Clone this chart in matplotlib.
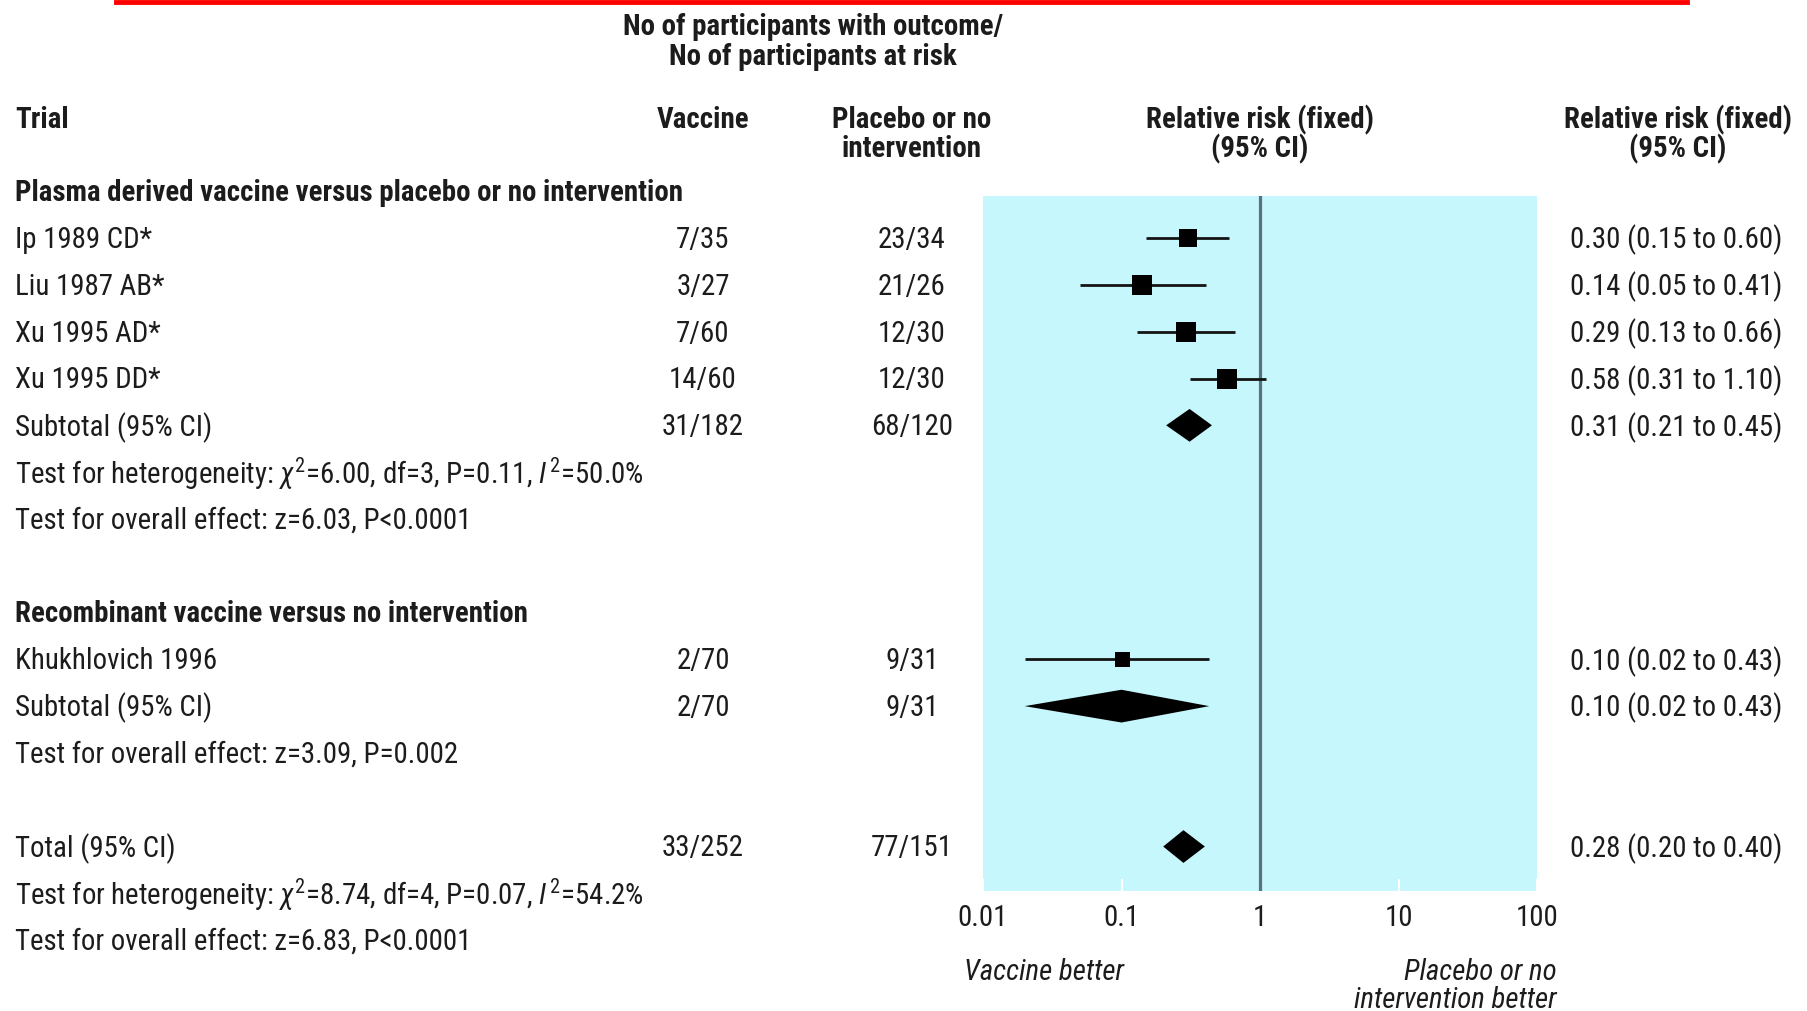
import numpy as np
import matplotlib
import matplotlib.pyplot as plt
from matplotlib import font_manager
from matplotlib.lines import Line2D
from matplotlib.transforms import blended_transform_factory

matplotlib.use("Agg")

# --- data -------------------------------------------------------------
group1_title = "Plasma derived vaccine versus placebo or no intervention"
group1_trials = ["Ip 1989 CD*", "Liu 1987 AB*", "Xu 1995 AD*", "Xu 1995 DD*"]
group1_vaccine = ["7/35", "3/27", "7/60", "14/60"]
group1_placebo = ["23/34", "21/26", "12/30", "12/30"]
group1_rr = [0.30, 0.14, 0.29, 0.58]
group1_lo = [0.15, 0.05, 0.13, 0.31]
group1_hi = [0.60, 0.41, 0.66, 1.10]
group1_sub = {"vaccine": "31/182", "placebo": "68/120", "rr": 0.31, "lo": 0.21, "hi": 0.45}
group1_tests = [
    r"Test for heterogeneity: $\chi^{2}$=6.00, df=3, P=0.11, $\mathit{I}^{\,2}$=50.0%",
    "Test for overall effect: z=6.03, P<0.0001",
]

group2_title = "Recombinant vaccine versus no intervention"
group2_trials = ["Khukhlovich 1996"]
group2_vaccine = ["2/70"]
group2_placebo = ["9/31"]
group2_rr = [0.10]
group2_lo = [0.02]
group2_hi = [0.43]
group2_sub = {"vaccine": "2/70", "placebo": "9/31", "rr": 0.10, "lo": 0.02, "hi": 0.43}
group2_tests = ["Test for overall effect: z=3.09, P=0.002"]

total = {"vaccine": "33/252", "placebo": "77/151", "rr": 0.28, "lo": 0.20, "hi": 0.40}
total_tests = [
    r"Test for heterogeneity: $\chi^{2}$=8.74, df=4, P=0.07, $\mathit{I}^{\,2}$=54.2%",
    "Test for overall effect: z=6.83, P<0.0001",
]

tick_values = [0.01, 0.1, 1, 10, 100]
tick_labels = ["0.01", "0.1", "1", "10", "100"]

# box sizes (pixels) for the individual trials
box_px = [18, 20, 20, 20, 15]


# --- fonts ------------------------------------------------------------
def pick_font():
    names = {f.name for f in font_manager.fontManager.ttflist}
    for name in ["Liberation Sans Narrow", "Arial Narrow", "Roboto Condensed"]:
        if name in names:
            return name, "normal"
    for f in font_manager.fontManager.ttflist:
        if f.name == "DejaVu Sans" and f.stretch == "condensed":
            return "DejaVu Sans", "condensed"
    return "Liberation Sans", "normal"


FAMILY, STRETCH = pick_font()
plt.rcParams["font.family"] = [FAMILY, "DejaVu Sans"]
plt.rcParams["font.stretch"] = STRETCH
plt.rcParams["mathtext.fontset"] = "custom"
plt.rcParams["mathtext.rm"] = FAMILY
plt.rcParams["mathtext.it"] = FAMILY + ":italic"
plt.rcParams["mathtext.bf"] = FAMILY + ":bold"

FS = 20.8
FS_HEAD = 20.8
TXT = "#1c1c1c"

W, H = 1808, 1011
fig = plt.figure(figsize=(W / 100, H / 100), dpi=100)

# forest axes placed in pixel terms
ax_left, ax_right, ax_top, ax_bottom = 983, 1537, 196, 891
ax = fig.add_axes([ax_left / W, 1 - ax_bottom / H, (ax_right - ax_left) / W, (ax_bottom - ax_top) / H])
ax.set_facecolor("#c6f7fc")
for s in ax.spines.values():
    s.set_visible(False)
ax.set_xscale("log")
ax.set_xlim(0.01, 100)
ax.set_ylim(14.95, 0.1)
ax.set_yticks([])
ax.set_xticks(tick_values)
ax.set_xticklabels(tick_labels)
ax.minorticks_off()
ax.tick_params(axis="x", direction="in", length=9, width=1.5, color="white",
               labelsize=FS, labelcolor=TXT, pad=9)
ax.axvline(1, color="#587280", lw=2.3, zorder=3)

# row index for every line of the table
rows_g1 = np.arange(1, 1 + len(group1_trials))
row_sub1 = rows_g1[-1] + 1
rows_t1 = [row_sub1 + 1, row_sub1 + 2]
row_title2 = row_sub1 + 4
rows_g2 = np.arange(row_title2 + 1, row_title2 + 1 + len(group2_trials))
row_sub2 = rows_g2[-1] + 1
rows_t2 = [row_sub2 + 1]
row_total = row_sub2 + 3
rows_tt = [row_total + 1, row_total + 2]


def size_pt(px):
    return px * 72 / 100


# trials: squares with CI lines
trial_rows = list(rows_g1) + list(rows_g2)
rr = group1_rr + group2_rr
lo = group1_lo + group2_lo
hi = group1_hi + group2_hi
ax.hlines(trial_rows, lo, hi, color="#141414", lw=2.0, zorder=4)
for r, v, b in zip(trial_rows, rr, box_px):
    ax.plot(v, r, marker="s", ms=size_pt(b), color="black", mec="black", mew=0, zorder=5)


def diamond(row, d, half=0.35):
    xs = [d["lo"], d["rr"], d["hi"], d["rr"]]
    ys = [row, row - half, row, row + half]
    ax.fill(xs, ys, color="black", lw=0, zorder=5)


diamond(row_sub1, group1_sub)
diamond(row_sub2, group2_sub)
diamond(row_total, total)

# --- table text ---------------------------------------------------------
tr = blended_transform_factory(fig.transFigure, ax.transData)
X_LEFT = 15 / W
X_VAC = 703 / W
X_PLA = 912 / W
X_RR = 1570 / W
DY = 0.04  # nudge text down a touch


def put(x, y, s, **kw):
    kw.setdefault("fontsize", FS)
    kw.setdefault("color", TXT)
    kw.setdefault("va", "center")
    fig.text(x, y + DY, s, transform=tr, **kw)


def head(x, y, s, **kw):
    put(x, y, s, fontsize=FS_HEAD, weight="bold", **kw)


def fmt_ci(v, l, h):
    return f"{v:.2f} ({l:.2f} to {h:.2f})"


head(X_LEFT, 0, group1_title)
for r, name, vac, pla, v, l, h in zip(rows_g1, group1_trials, group1_vaccine, group1_placebo,
                                      group1_rr, group1_lo, group1_hi):
    put(X_LEFT, r, name)
    put(X_VAC, r, vac, ha="center")
    put(X_PLA, r, pla, ha="center")
    put(X_RR, r, fmt_ci(v, l, h))

put(X_LEFT, row_sub1, "Subtotal (95% CI)")
put(X_VAC, row_sub1, group1_sub["vaccine"], ha="center")
put(X_PLA, row_sub1, group1_sub["placebo"], ha="center")
put(X_RR, row_sub1, fmt_ci(group1_sub["rr"], group1_sub["lo"], group1_sub["hi"]))
for r, s in zip(rows_t1, group1_tests):
    put(X_LEFT, r, s)

head(X_LEFT, row_title2, group2_title)
for r, name, vac, pla, v, l, h in zip(rows_g2, group2_trials, group2_vaccine, group2_placebo,
                                      group2_rr, group2_lo, group2_hi):
    put(X_LEFT, r, name)
    put(X_VAC, r, vac, ha="center")
    put(X_PLA, r, pla, ha="center")
    put(X_RR, r, fmt_ci(v, l, h))

put(X_LEFT, row_sub2, "Subtotal (95% CI)")
put(X_VAC, row_sub2, group2_sub["vaccine"], ha="center")
put(X_PLA, row_sub2, group2_sub["placebo"], ha="center")
put(X_RR, row_sub2, fmt_ci(group2_sub["rr"], group2_sub["lo"], group2_sub["hi"]))
for r, s in zip(rows_t2, group2_tests):
    put(X_LEFT, r, s)

put(X_LEFT, row_total, "Total (95% CI)")
put(X_VAC, row_total, total["vaccine"], ha="center")
put(X_PLA, row_total, total["placebo"], ha="center")
put(X_RR, row_total, fmt_ci(total["rr"], total["lo"], total["hi"]))
for r, s in zip(rows_tt, total_tests):
    put(X_LEFT, r, s)

# headers
head(813 / W, -3.55, "No of participants with outcome/", ha="center")
head(813 / W, -2.92, "No of participants at risk", ha="center")
head(X_LEFT, -1.56, "Trial")
head(X_VAC, -1.56, "Vaccine", ha="center")
head(X_PLA, -1.56, "Placebo or no", ha="center")
head(X_PLA, -0.95, "intervention", ha="center")
head(1260 / W, -1.56, "Relative risk (fixed)", ha="center")
head(1260 / W, -0.95, "(95% CI)", ha="center")
head(1678 / W, -1.56, "Relative risk (fixed)", ha="center")
head(1678 / W, -0.95, "(95% CI)", ha="center")

# footer labels
put(964 / W, 16.65, "Vaccine better", style="italic")
put(1557 / W, 16.65, "Placebo or no", style="italic", ha="right")
put(1557 / W, 17.24, "intervention better", style="italic", ha="right")

# red rule at the top
fig.add_artist(Line2D([116 / W, 1687 / W], [1 - 1.5 / H, 1 - 1.5 / H], color="#ff0000", lw=3.5))

plt.savefig("out.png", dpi=100, facecolor="white")
